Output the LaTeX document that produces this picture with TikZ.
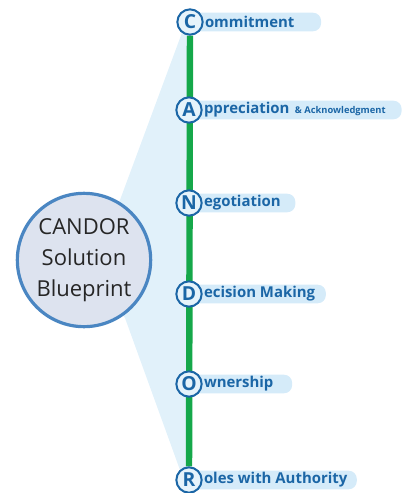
\documentclass[tikz,border=0pt]{standalone}
\usepackage{fontspec}
\setmainfont{Open Sans}
\usetikzlibrary{backgrounds}

\definecolor{candorblue}{HTML}{1B66A6}
\definecolor{pillblue}{HTML}{D5EBF9}
\definecolor{wedgeblue}{HTML}{E1F1FA}
\definecolor{hubfill}{HTML}{DDE3EF}
\definecolor{hubline}{HTML}{4A86C2}
\definecolor{spinegreen}{HTML}{15A84A}

\tikzset{
	hub/.style={circle, draw=hubline, line width=2.4pt, fill=hubfill, minimum size=100pt,
		inner sep=0pt, align=center, text=black!85, font=\fontsize{16.5}{23}\selectfont},
	letter/.style={circle, draw=candorblue, line width=1.5pt, fill=pillblue!60, minimum size=19pt,
		inner sep=0pt, text=candorblue, font=\bfseries\fontsize{14.5}{15}\selectfont},
	word/.style={anchor=west, inner xsep=0.8pt, inner ysep=0pt, minimum height=13.5pt,
		text=candorblue, font=\bfseries\fontsize{11.2}{13}\selectfont},
	pill/.style={fill=pillblue, rounded corners=6pt},
}

\begin{document}
\begin{tikzpicture}[x=0.75pt, y=-0.75pt]
	\useasboundingbox (0,0) rectangle (404,493);

	% hub and the six letters
	\node [hub] (hub) at (84,260) {CANDOR\\Solution\\Blueprint};
	\node [letter] (C) at (190,22) {C};
	\node [letter] (A) at (189,110) {A};
	\node [letter] (N) at (189,203) {N};
	\node [letter] (D) at (189,294) {D};
	\node [letter] (O) at (189,384) {O};
	\node [letter] (R) at (189,480) {R};

	\node [word] (C-txt) at (C.east) {ommitment};
	\node [word] (A-txt) at (A.east) {ppreciation {\fontsize{7}{9}\selectfont\,\& Acknowledgment}};
	\node [word] (N-txt) at (N.east) {egotiation};
	\node [word] (D-txt) at (D.east) {ecision Making};
	\node [word] (O-txt) at (O.east) {wnership};
	\node [word] (R-txt) at (R.east) {oles with Authority};

	\begin{scope}[on background layer]
		% light wedge from the hub to the spine
		\fill [wedgeblue] (183,30) -- (120,200) -- (hub.center) -- (125,318) -- (180,470)
			-- (R.center) -- (C.center) -- cycle;
		\draw [spinegreen, line width=4.8pt] (C) -- (R);
		% pills behind the words
		\fill [pill] (C.center |- C-txt.south) rectangle ([xshift=19pt]C-txt.north east);
		\fill [pill] (A.center |- A-txt.south) rectangle ([xshift=11pt]A-txt.north east);
		\fill [pill] (N.center |- N-txt.south) rectangle ([xshift=10pt]N-txt.north east);
		\fill [pill] (D.center |- D-txt.south) rectangle ([xshift=7pt]D-txt.north east);
		\fill [pill] (O.center |- O-txt.south) rectangle ([xshift=13pt]O-txt.north east);
		\fill [pill] (R.center |- R-txt.south) rectangle ([xshift=6pt]R-txt.north east);
	\end{scope}
\end{tikzpicture}
\end{document}
